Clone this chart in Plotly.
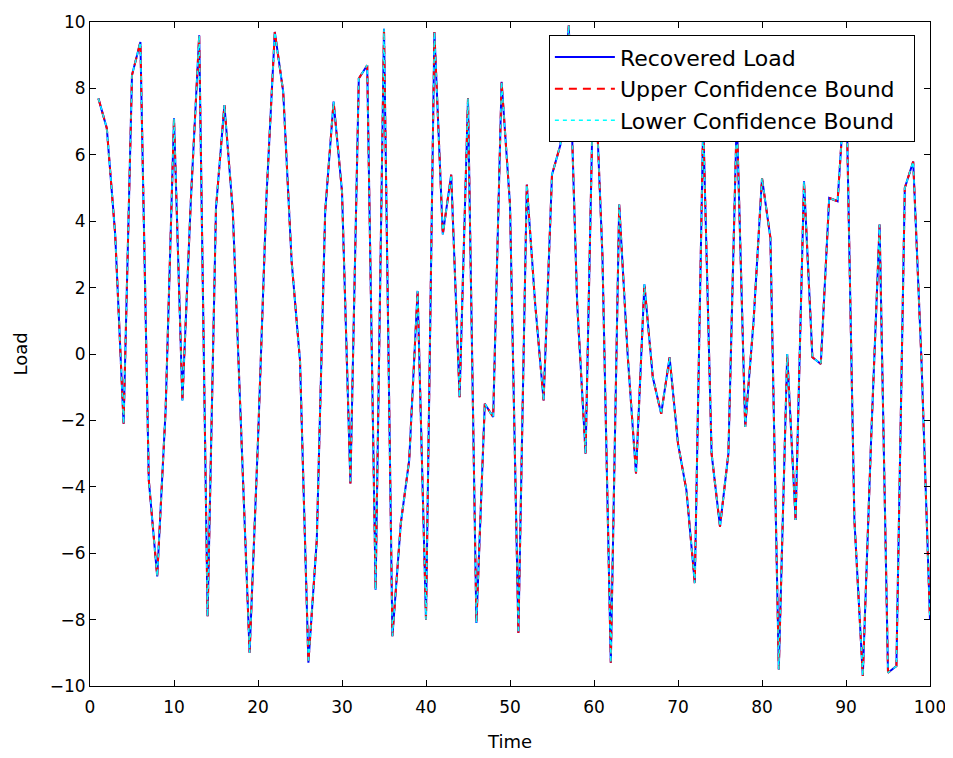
import plotly.graph_objects as go

# time axis, one sample per unit
time = list(range(1, 101))

# recovered load
recovered_load = [
    7.7, 6.8, 3.6, -2.1, 8.4, 9.4, -3.8, -6.7, -1.7, 7.1,
    -1.4, 4.6, 9.6, -7.9, 4.4, 7.5, 4.3, -2.4, -9.0, -2.6,
    4.7, 9.7, 7.9, 2.8, -0.2, -9.3, -5.6, 4.3, 7.6, 4.9,
    -3.9, 8.3, 8.7, -7.1, 9.8, -8.5, -5.1, -3.2, 1.9, -8.0,
    9.7, 3.6, 5.4, -1.3, 7.7, -8.1, -1.5, -1.9, 8.2, 4.5,
    -8.4, 5.1, 1.5, -1.4, 5.4, 6.3, 9.9, 1.5, -3.0, 9.3,
    3.0, -9.3, 4.5, 0.0, -3.6, 2.1, -0.7, -1.8, -0.1, -2.7,
    -4.1, -6.9, 7.0, -3.0, -5.2, -3.0, 7.2, -2.2, 1.0, 5.3,
    3.5, -9.5, 0.0, -5.0, 5.2, -0.1, -0.3, 4.7, 4.6, 8.5,
    -5.0, -9.7, -2.5, 3.9, -9.6, -9.4, 5.0, 5.8, -0.3, -8.0,
]

# the bounds sit on top of the recovered load in the picture
upper_bound = list(recovered_load)
lower_bound = list(recovered_load)

x_ticks = list(range(0, 101, 10))
y_ticks = list(range(-10, 11, 2))

FONT = "DejaVu Sans, Arial, sans-serif"
PAD = "\u00a0\u00a0"  # a little room on the right of the legend text, like the reference

fig = go.Figure()
fig.add_trace(go.Scatter(x=time, y=recovered_load, mode="lines", name="Recovered Load" + PAD,
                         legendgroup="a", line=dict(color="#0000ff", width=2)))
fig.add_trace(go.Scatter(x=time, y=upper_bound, mode="lines", name="Upper Confidence Bound" + PAD,
                         legendgroup="b", line=dict(color="#ff0000", width=2, dash="8px,6px")))
fig.add_trace(go.Scatter(x=time, y=lower_bound, mode="lines", name="Lower Confidence Bound" + PAD,
                         legendgroup="c", line=dict(color="#00ffff", width=1.5, dash="4px,4px")))

axis_style = dict(showline=True, linecolor="black", linewidth=1, mirror="allticks",
                  ticks="inside", ticklen=6, tickcolor="black", showgrid=False,
                  zeroline=False, automargin=False,
                  tickfont=dict(family=FONT, size=17, color="black"))

fig.update_xaxes(range=[0, 100], tickvals=x_ticks, ticklabelstandoff=6,
                 title=dict(text="Time", font=dict(family=FONT, size=18, color="black"), standoff=18),
                 **axis_style)
fig.update_yaxes(range=[-10, 10], tickvals=y_ticks,
                 title=dict(text="Load", font=dict(family=FONT, size=18, color="black"), standoff=17),
                 **axis_style)

# the page body adds 8px, so margins are shifted to land the axes where the reference has them
fig.update_layout(
    width=953, height=758,
    margin=dict(l=82, r=31, t=14, b=80),
    paper_bgcolor="white", plot_bgcolor="white",
    font=dict(family=FONT, color="black"),
    legend=dict(x=0.982, xanchor="right", y=0.98, yanchor="top",
                bgcolor="white", bordercolor="black", borderwidth=1,
                font=dict(family=FONT, size=22, color="black"),
                itemwidth=60, tracegroupgap=0),
)

fig.write_html("out.html")
